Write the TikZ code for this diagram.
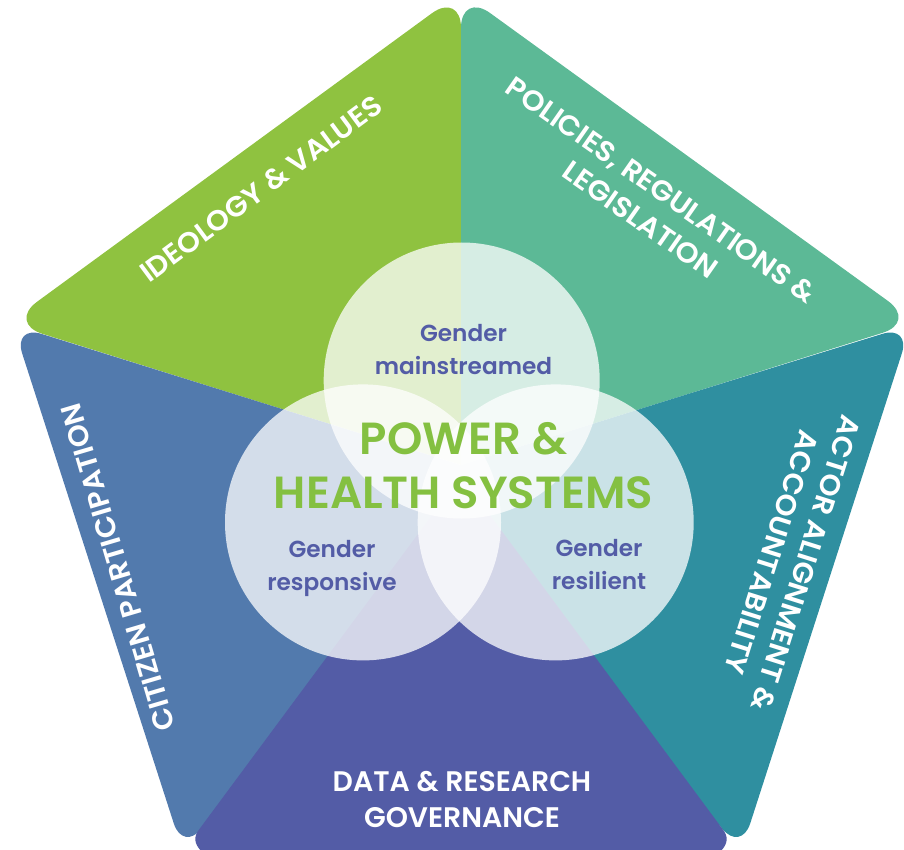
\documentclass[tikz,border=0pt]{standalone}
\usepackage{fontspec}
\setmainfont{Poppins}
\newfontfamily\semi{Poppins}[UprightFont=* SemiBold]
\newfontfamily\semiwide{Poppins}[UprightFont=* SemiBold,FakeStretch=1.04]
\definecolor{cgreen}{HTML}{8FC240}
\definecolor{cmint}{HTML}{5CB996}
\definecolor{cblue}{HTML}{527AAD}
\definecolor{cteal}{HTML}{2F8FA0}
\definecolor{cpurple}{HTML}{535CA6}
\definecolor{ctitle}{HTML}{84C041}
\tikzset{
  x=1pt,y=-1pt,
  veil/.style={fill=white,fill opacity=.75,draw=none},
  outer/.style={text=white,align=center,inner sep=0pt,font=\semi\fontsize{28.3}{36}\selectfont},
  slanted/.style={outer,font=\semiwide\fontsize{28.3}{36}\selectfont},
  inner/.style={text=cpurple,align=center,inner sep=0pt,font=\semi\fontsize{23.2}{33}\selectfont},
  title/.style={text=ctitle,align=center,inner sep=0pt,font=\semi\fontsize{45}{54}\selectfont}
}
\begin{document}
\begin{tikzpicture}
\useasboundingbox (0,0) rectangle (904,850);
\clip (0,0) rectangle (904,850);
\fill[cgreen] (461,200) [rounded corners=36pt] -- (461,-8) -- (8,323) -- (234,394) [sharp corners] -- (461,465) -- cycle;
\fill[cmint] (461,200) [rounded corners=36pt] -- (461,-8) -- (917,322) -- (688,394) [sharp corners] -- (461,465) -- cycle;
\fill[cblue] (234,394) [rounded corners=30pt] -- (13,325) -- (183,852) -- (320,680) [sharp corners] -- (461,520) -- (461,465) -- cycle;
\fill[cteal] (688,394) [rounded corners=30pt] -- (911,325) -- (741,852) -- (602,680) [sharp corners] -- (461,520) -- (461,465) -- cycle;
\fill[cpurple] (461,476) -- (198,831) .. controls (192,840) and (197,847) .. (203,853) -- (719,853) .. controls (725,847) and (730,840) .. (724,831) -- cycle;
\fill[veil] (461.7,380.5) circle (138);
\fill[veil] (363,522.4) circle (138);
\fill[veil] (555.7,522.4) circle (138);
\node[title] (core) at (463.5,466) {POWER \&\\HEALTH SYSTEMS};
\node[inner] (main) at (463.5,350) {Gender\\mainstreamed};
\node[inner] (resp) at (332,568) {Gender\\responsive};
\node[inner] (resi) at (599,565) {Gender\\resilient};
\node[slanted,rotate=36.5] (ideo) at (261,189) {IDEOLOGY \& VALUES};
\node[slanted,rotate=-35] (poli) at (651,205) {POLICIES, REGULATIONS \&\\LEGISLATION};
\node[slanted,rotate=106.5] (citi) at (118,567) {CITIZEN PARTICIPATION};
\node[slanted,rotate=-107.5] (acto) at (789,558) {ACTOR ALIGNMENT \&\\ACCOUNTABILITY};
\node[outer] (data) at (462,800) {DATA \& RESEARCH\\GOVERNANCE};
\end{tikzpicture}
\end{document}
